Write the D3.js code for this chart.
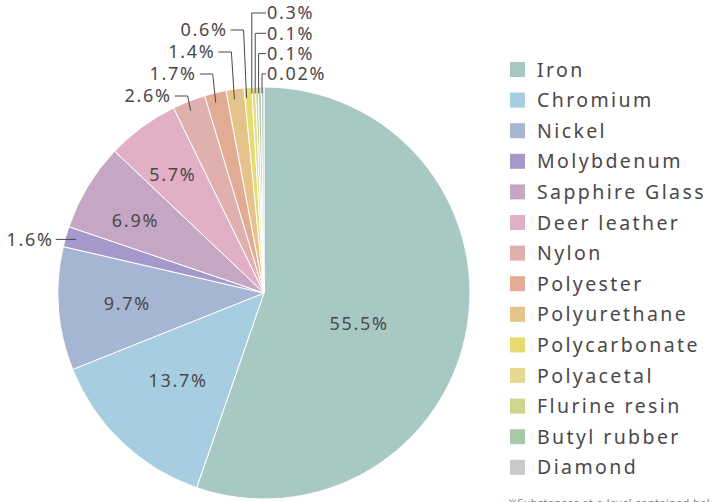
<!DOCTYPE html>
<html>
<head>
<meta charset="utf-8">
<script src="https://cdn.jsdelivr.net/npm/d3@7"></script>
<style>
  html, body { margin: 0; padding: 0; background: #fff; }
  svg text { font-family: "Noto Sans", "Open Sans", sans-serif; fill: #4b484b; }
</style>
</head>
<body>
<svg id="chart" width="712" height="502"></svg>
<script>
// data (percent)
var materials = ["Iron", "Chromium", "Nickel", "Molybdenum", "Sapphire Glass", "Deer leather",
  "Nylon", "Polyester", "Polyurethane", "Polycarbonate", "Polyacetal", "Flurine resin",
  "Butyl rubber", "Diamond"];
var shares = [55.5, 13.7, 9.7, 1.6, 6.9, 5.7, 2.6, 1.7, 1.4, 0.6, 0.3, 0.1, 0.1, 0.02];
var shareLabels = ["55.5%", "13.7%", "9.7%", "1.6%", "6.9%", "5.7%", "2.6%", "1.7%", "1.4%",
  "0.6%", "0.3%", "0.1%", "0.1%", "0.02%"];
var colors = ["#a8c8c4", "#a7cee0", "#a6b5d1", "#a598ca", "#c6a7c3", "#e1b0c5", "#dfb0ae",
  "#e2ab93", "#e5c38a", "#e8da6e", "#e4d98f", "#cdd58f", "#a7c9a9", "#c9c9c9"];
var footnote = "\u203bSubstances at a level contained below the threshold";

var width = 712, height = 502;
var cx = 264, cy = 293, R = 206;
var minShare = 0.22; // tiny slices drawn a bit wider so they stay visible

var svg = d3.select("#chart");

var data = materials.map(function(m, i) {
  return {name: m, value: shares[i], label: shareLabels[i], color: colors[i], i: i};
});

var pie = d3.pie()
  .sort(null)
  .value(function(d) { return Math.max(d.value, minShare); });
var arcs = pie(data);

var arcGen = d3.arc().innerRadius(0).outerRadius(R);

var g = svg.append("g").attr("transform", "translate(" + cx + "," + cy + ")");

g.selectAll("path")
  .data(arcs)
  .enter()
  .append("path")
  .attr("d", arcGen)
  .attr("fill", function(d) { return d.data.color; })
  .attr("stroke", "#fff")
  .attr("stroke-width", 1);

function polar(a, r) {
  return [r * Math.sin(a), -r * Math.cos(a)];
}

function pctText(sel) {
  return sel.style("font-size", "18px").style("letter-spacing", "1.7px");
}

// labels inside the big slices: radius factor + small angle nudge (deg)
var inside = {0: [0.48, 8.5], 1: [0.6, 1], 2: [0.67, 0], 4: [0.72, -2], 5: [0.73, -1.5]};
arcs.forEach(function(d) {
  var cfg = inside[d.data.i];
  if (!cfg) return;
  var a = (d.startAngle + d.endAngle) / 2 + cfg[1] * Math.PI / 180;
  var p = polar(a, R * cfg[0]);
  g.append("text")
    .attr("x", p[0] + 1).attr("y", p[1])
    .attr("text-anchor", "middle")
    .attr("dy", "0.36em")
    .call(pctText)
    .text(d.data.label);
});

// leader lines
var lines = svg.append("g")
  .attr("fill", "none")
  .attr("stroke", "#4b484b")
  .attr("stroke-width", 1);

function anchor(d) {
  var p = polar((d.startAngle + d.endAngle) / 2, R * 0.95);
  return [cx + p[0], cy + p[1]];
}

// Molybdenum: horizontal to the left
var mo = arcs[3], pm = anchor(mo);
lines.append("path").attr("d", d3.line()([[pm[0] - 20, pm[1]], [pm[0], pm[1]]]));
svg.append("text")
  .attr("x", pm[0] - 22).attr("y", pm[1])
  .attr("dy", "0.36em").attr("text-anchor", "end")
  .call(pctText)
  .text(mo.data.label);

// left group above the pie
var leftGroup = arcs.slice(6, 10);
leftGroup.forEach(function(d, k) {
  var p = anchor(d);
  p[0] -= 2;
  var ly = 96 - 22 * k;
  var bend = p[0] - 3;
  lines.append("path").attr("d", d3.line()([[bend - 13, ly], [bend, ly], [p[0], p[1]]]));
  svg.append("text")
    .attr("x", bend - 16).attr("y", ly)
    .attr("dy", "0.36em").attr("text-anchor", "end")
    .call(pctText)
    .text(d.data.label);
});

// right group above the pie, spread apart a little
var rightGroup = arcs.slice(10);
var rx = rightGroup.map(function(d) { return anchor(d)[0]; });
rx[rx.length - 1] = Math.min(rx[rx.length - 1], cx - 2);
for (var k = rx.length - 2; k >= 0; k--) rx[k] = Math.min(rx[k], rx[k + 1] - 3.4);
var labelRight = cx + 2;
rightGroup.forEach(function(d, k) {
  var p = anchor(d);
  var ly = 13 + 20.3 * k;
  lines.append("path").attr("d", d3.line()([[labelRight, ly], [rx[k], ly], [rx[k], p[1] - 4]]));
  svg.append("text")
    .attr("x", labelRight + 1).attr("y", ly)
    .attr("dy", "0.36em")
    .call(pctText)
    .text(d.data.label);
});

// legend
var legend = svg.append("g").attr("transform", "translate(510,62)");
var row = legend.selectAll("g")
  .data(data)
  .enter()
  .append("g")
  .attr("transform", function(d, i) { return "translate(0," + (i * 30.6) + ")"; });
row.append("rect")
  .attr("width", 15).attr("height", 15)
  .attr("fill", function(d) { return d.color; });
row.append("text")
  .attr("x", 27).attr("y", 7.5)
  .attr("dy", "0.36em")
  .style("font-size", "19.5px")
  .style("letter-spacing", "2.4px")
  .text(function(d) { return d.name; });

svg.append("text")
  .attr("x", 508).attr("y", 507)
  .style("font-size", "10.5px")
  .style("letter-spacing", "0.6px")
  .style("fill", "#777")
  .text(footnote);
</script>
</body>
</html>
